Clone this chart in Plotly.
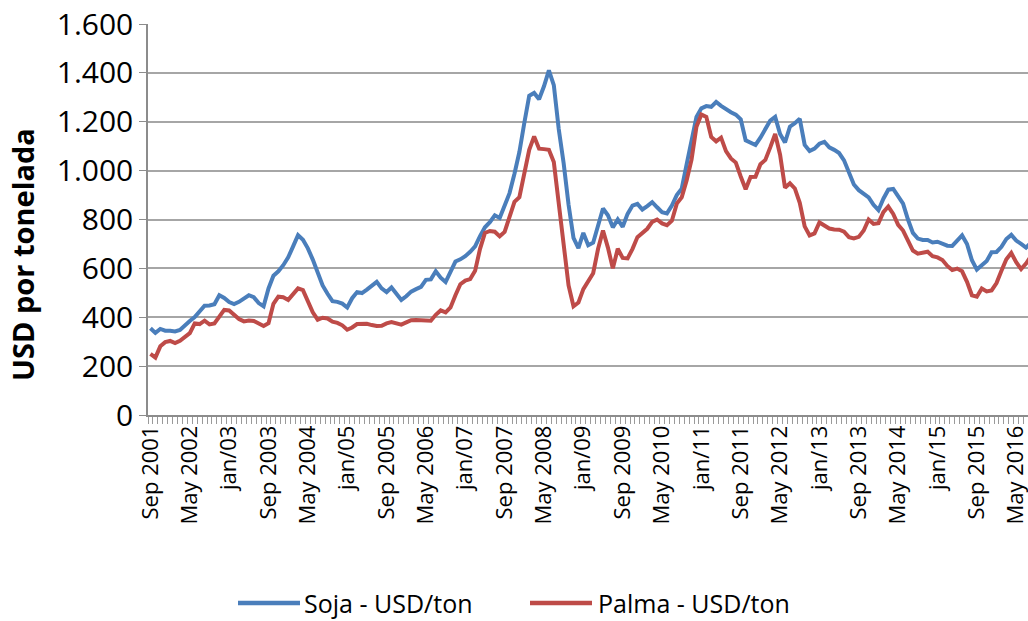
import plotly.graph_objects as go

# Monthly data, Sep 2001 .. Aug 2016
soja = [355, 336, 352, 345, 345, 342, 348, 368, 385, 401,
        427, 447, 448, 453, 490, 479, 462, 454, 463, 478,
        490, 482, 458, 445, 518, 570, 588, 613, 645, 690,
        736, 717, 682, 636, 580, 530, 496, 466, 463, 456,
        440, 478, 503, 499, 513, 530, 545, 518, 503, 522,
        495, 471, 486, 505, 515, 524, 553, 555, 588, 562,
        544, 585, 628, 637, 650, 668, 690, 732, 768, 789,
        817, 806, 862, 908, 987, 1076, 1195, 1306, 1318, 1292,
        1345, 1410, 1350, 1170, 1030, 860, 725, 683, 745, 695,
        705, 780, 845, 817, 768, 800, 770, 823, 857, 864,
        841, 855, 871, 850, 830, 825, 857, 900, 926, 1025,
        1133, 1220, 1255, 1264, 1261, 1281, 1265, 1250, 1239, 1229,
        1210, 1124, 1115, 1105, 1135, 1170, 1205, 1220, 1150, 1115,
        1180, 1194, 1212, 1105, 1080, 1090, 1110, 1118, 1095, 1085,
        1072, 1042, 990, 943, 920, 903, 890, 860, 838, 885,
        922, 925, 897, 865, 800, 745, 722, 716, 716, 706,
        709, 700, 693, 692, 712, 735, 700, 633, 595, 614,
        630, 666, 667, 688, 720, 737, 714, 700, 685, 705]

palma = [250, 235, 281, 298, 303, 294, 304, 318, 335, 375,
         372, 386, 371, 375, 405, 430, 428, 412, 393, 383,
         387, 385, 374, 364, 376, 455, 484, 482, 471, 495,
         518, 511, 463, 420, 390, 398, 395, 382, 377, 367,
         349, 358, 372, 374, 373, 368, 364, 365, 375, 380,
         373, 370, 379, 388, 389, 389, 386, 386, 410, 428,
         420, 440, 490, 535, 550, 556, 590, 680, 745, 753,
         750, 731, 749, 810, 872, 891, 980, 1085, 1140, 1090,
         1088, 1085, 1035, 860, 690, 530, 445, 460, 515, 550,
         580, 680, 755, 685, 600, 680, 643, 641, 680, 728,
         743, 762, 790, 800, 784, 777, 795, 865, 891, 960,
         1045, 1180, 1230, 1220, 1138, 1120, 1135, 1080, 1050, 1033,
         976, 924, 974, 975, 1026, 1044, 1095, 1150, 1065, 930,
         948, 927, 868, 772, 735, 743, 788, 776, 763, 759,
         758, 750, 728, 723, 729, 755, 800, 782, 785, 830,
         853, 823, 778, 755, 718, 673, 660, 662, 668, 650,
         645, 634, 610, 593, 599, 588, 545, 490, 484, 518,
         506, 510, 540, 590, 637, 663, 625, 597, 620, 650]

series_names = ["Soja - USD/ton", "Palma - USD/ton"]
series_colors = ["#4A7EBB", "#BE4B48"]

tick_labels = ["Sep 2001", "May 2002", "jan/03", "Sep 2003", "May 2004", "jan/05",
               "Sep 2005", "May 2006", "jan/07", "Sep 2007", "May 2008", "jan/09",
               "Sep 2009", "May 2010", "jan/11", "Sep 2011", "May 2012", "jan/13",
               "Sep 2013", "May 2014", "jan/15", "Sep 2015", "May 2016"]
tick_step = 8

y_ticks = [0, 200, 400, 600, 800, 1000, 1200, 1400, 1600]
y_tick_text = ["0", "200", "400", "600", "800", "1.000", "1.200", "1.400", "1.600"]

idx = list(range(len(soja)))
FONT = "Open Sans"

# plot area in pixels: left 148, right 1028, top 24, bottom 415
PL, PR, PT, PB = 148, 1028, 24, 415
def px(x):
    return (x - PL) / (PR - PL)
def py(y):
    return (PB - y) / (PB - PT)

fig = go.Figure()
for vals, name, col in zip([soja, palma], series_names, series_colors):
    fig.add_trace(go.Scatter(x=idx, y=vals, mode="lines", name=name,
                             line=dict(color=col, width=4), showlegend=False))

# legend (built manually to match the original layout)
legend_y = py(603)
legend_items = [(238, 300, 302), (530, 592, 596)]
shapes, annots = [], []
for (x0, x1, xt), name, col in zip(legend_items, series_names, series_colors):
    shapes.append(dict(type="line", xref="paper", yref="paper",
                       x0=px(x0), x1=px(x1), y0=legend_y, y1=legend_y,
                       line=dict(color=col, width=4.5)))
    annots.append(dict(text=name, xref="paper", yref="paper", x=px(xt), y=legend_y,
                       xanchor="left", yanchor="middle", showarrow=False,
                       font=dict(family=FONT, size=25, color="#000000")))

annots.append(dict(text="<b>USD por tonelada</b>", textangle=-90,
                   xref="paper", yref="paper",
                   x=px(22), y=py(255), xanchor="center", yanchor="middle",
                   showarrow=False, font=dict(family=FONT, size=29)))

fig.update_layout(
    width=1028, height=621,
    margin=dict(l=PL, r=0, t=PT, b=621 - PB, autoexpand=False),
    paper_bgcolor="white", plot_bgcolor="white",
    font=dict(family=FONT, color="#000000"),
    showlegend=False,
    shapes=shapes,
    annotations=annots,
)
fig.update_xaxes(
    range=[-0.5, 178.4],
    automargin=False,
    tickmode="array",
    tickvals=[i * tick_step for i in range(len(tick_labels))],
    ticktext=tick_labels,
    tickangle=-90,
    tickfont=dict(family=FONT, size=22),
    ticklabeloverflow="allow",
    ticks="",
    showgrid=False, zeroline=False,
    showline=True, linecolor="#8C8C8C", linewidth=1.5,
    minor=dict(tick0=-0.5, dtick=1, ticks="outside", ticklen=7, tickcolor="#9A9A9A", showgrid=False),
)
fig.update_yaxes(
    range=[0, 1600],
    automargin=False,
    tickmode="array", tickvals=y_ticks, ticktext=y_tick_text,
    tickfont=dict(family=FONT, size=30),
    ticks="outside", ticklen=7, tickcolor="#8C8C8C",
    showgrid=True, gridcolor="#A6A6A6", gridwidth=1.5,
    zeroline=False,
    showline=True, linecolor="#8C8C8C", linewidth=1.5,
)

fig.write_html("out.html", config={"displayModeBar": False},
               post_script="document.body.style.margin='0px';")
